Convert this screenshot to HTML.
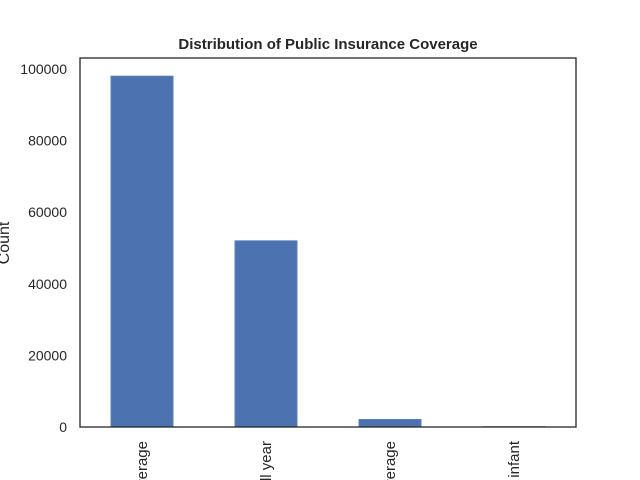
<!DOCTYPE html>
<html><head><meta charset="utf-8"><style>html,body{margin:0;background:#fff;width:640px;height:480px;overflow:hidden}svg{display:block;overflow:hidden}text{font-family:"Liberation Sans",sans-serif;fill:#262626}</style></head>
<body>
<svg id="c" width="640" height="480">
<text x="328" y="49" text-anchor="middle" font-size="15" font-weight="bold">Distribution of Public Insurance Coverage</text>
<text transform="translate(9,243) rotate(-90)" text-anchor="middle" font-size="16">Count</text>
<g id="bars"></g><g id="yt"></g><g id="xt"></g>
<rect x="80" y="58" width="496" height="369" fill="none" stroke="#262626" stroke-width="1.3"/>
</svg>
<script>
const categories=["Public coverage","Public coverage all year","No public coverage","Public coverage infant"];
const values=[98000,52000,2100,80];
const yTicks=[0,20000,40000,60000,80000,100000];
const L=80,R=576,T=58,B=427,NS="http://www.w3.org/2000/svg";
const y=v=>B-v*358/100000;
const step=(R-L)/categories.length;
const x=i=>L+step*(i+0.5);
const mk=(t,a,p)=>{const e=document.createElementNS(NS,t);for(const k in a)e.setAttribute(k,a[k]);p.appendChild(e);return e;};
const bars=document.getElementById('bars'),yt=document.getElementById('yt'),xt=document.getElementById('xt');
values.forEach((v,i)=>{const bw=step*0.5;
const r=mk('rect',{x:x(i)-bw/2,y:y(v),width:bw,height:B-y(v),fill:'#4c72b0',stroke:'#5a80bd','stroke-width':1},bars);


const t=mk('text',{transform:`translate(${x(i)+5},441) rotate(-90)`,'text-anchor':'end','font-size':15},xt);t.textContent=categories[i];

});
yTicks.forEach(v=>{const t=mk('text',{x:67,y:y(v)+5,'text-anchor':'end','font-size':14},yt);t.textContent=v;

});
</script>
</body></html>
